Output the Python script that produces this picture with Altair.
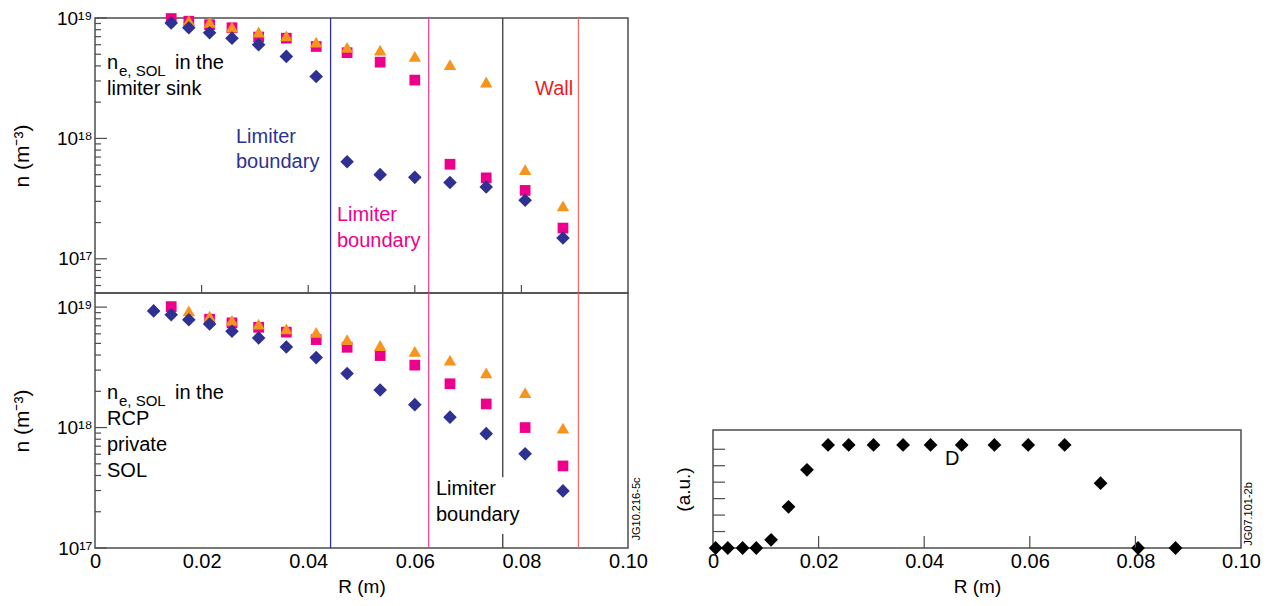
import altair as alt
import pandas as pd

# ---------------- data ----------------
# radial positions (m) of the probe samples
R_MAIN = [0.0143, 0.0176, 0.0215, 0.0257, 0.0307, 0.0359, 0.0415,
          0.0473, 0.0535, 0.0600, 0.0666, 0.0734, 0.0807, 0.0878]

# upper panel: n_e,SOL in the limiter sink (m^-3)
TOP_DIAMOND_R = R_MAIN
TOP_DIAMOND = [9.1e18, 8.3e18, 7.55e18, 6.8e18, 6.0e18, 4.8e18, 3.27e18,
               6.4e17, 5.0e17, 4.75e17, 4.3e17, 3.95e17, 3.06e17, 1.49e17]
TOP_SQUARE_R = R_MAIN
TOP_SQUARE = [9.9e18, 9.4e18, 8.8e18, 8.3e18, 6.95e18, 6.8e18, 5.8e18,
              5.15e18, 4.3e18, 3.05e18, 6.1e17, 4.7e17, 3.7e17, 1.8e17]
TOP_TRIANGLE_R = R_MAIN[1:]
TOP_TRIANGLE = [9.5e18, 9.2e18, 8.4e18, 7.65e18, 7.1e18, 6.3e18, 5.7e18,
                5.4e18, 4.8e18, 4.1e18, 2.94e18, 5.5e17, 2.75e17]

# lower panel: n_e,SOL in the RCP private SOL (m^-3)
BOT_DIAMOND_R = [0.0110] + R_MAIN
BOT_DIAMOND = [9.3e18, 8.65e18, 7.86e18, 7.24e18, 6.3e18, 5.55e18, 4.67e18,
               3.81e18, 2.81e18, 2.05e18, 1.55e18, 1.22e18, 8.9e17, 6.05e17, 2.98e17]
BOT_SQUARE_R = [0.0143, 0.0215, 0.0257, 0.0307, 0.0359, 0.0415, 0.0473,
                0.0535, 0.0600, 0.0666, 0.0734, 0.0807, 0.0878]
BOT_SQUARE = [1.01e19, 7.94e18, 7.4e18, 6.8e18, 6.2e18, 5.37e18, 4.64e18,
              3.96e18, 3.3e18, 2.31e18, 1.57e18, 1.0e18, 4.8e17]
BOT_TRIANGLE_R = R_MAIN[1:]
BOT_TRIANGLE = [9.3e18, 8.4e18, 7.76e18, 7.24e18, 6.6e18, 6.17e18, 5.37e18,
                4.8e18, 4.3e18, 3.63e18, 2.85e18, 1.95e18, 9.9e17]

# boundaries (m)
R_LIMITER_BLUE = 0.0442
R_LIMITER_PINK = 0.0626
R_LIMITER_BLACK = 0.0765
R_WALL = 0.0907

# right panel: D-alpha profile (a.u.)
D_R = [0.0005, 0.0028, 0.0056, 0.0082, 0.0110, 0.0143, 0.0178, 0.0218, 0.0257,
       0.0304, 0.0360, 0.0412, 0.0471, 0.0533, 0.0597, 0.0666, 0.0734, 0.0805, 0.0876]
D_VAL = [0, 0, 0, 0, 0.5, 2.5, 4.75, 6.26, 6.26, 6.26, 6.26, 6.26, 6.26, 6.26,
         6.26, 6.26, 3.94, 0, 0]

# axis ticks
X_TICKS = [0, 0.02, 0.04, 0.06, 0.08, 0.10]
X_INNER_TICKS = [0.02, 0.04, 0.06, 0.08]
Y_MAJOR = [1e17, 1e18, 1e19]
Y_MINOR_TOP = [m * 10 ** e for e in (16, 17, 18) for m in range(2, 10) if m * 10 ** e > 5.2e16]
Y_MINOR_BOT = [m * 10 ** e for e in (17, 18) for m in range(2, 10)]
D_TICKS = [1, 2, 3, 4, 5, 6]

# ---------------- style ----------------
FONT = "Liberation Sans"
NAVY = "#2E3192"
MAGENTA = "#EC008C"
ORANGE = "#F7941D"
FRAME = "#4D4D4D"

W_L, H_TOP, H_BOT = 533, 275, 255
W_R, H_R = 528, 118

xs = alt.Scale(domain=[0, 0.10], nice=False, zero=False)
ys_top = alt.Scale(type="log", domain=[5.2e16, 1e19], nice=False)
ys_bot = alt.Scale(type="log", domain=[1e17, 1.31e19], nice=False)
ys_d = alt.Scale(domain=[0, 7.17], nice=False, zero=True)

R_LABELS = "datum.value == 0 ? '0' : format(datum.value, '.2f')"
Y_LABELS = ("datum.value > 5e18 ? '10\u00b9\u2079' : "
            "(datum.value > 5e17 ? '10\u00b9\u2078' : '10\u00b9\u2077')")

y_axis_n = alt.Axis(values=Y_MAJOR, labelExpr=Y_LABELS, title="n (m\u207b\u00b3)",
                    ticks=False, tickSize=0, domain=False, grid=False,
                    labelFontSize=19, labelPadding=3, titleFontSize=21, titlePadding=24)
x_axis_r = alt.Axis(values=X_TICKS, labelExpr=R_LABELS, title="R (m)",
                    ticks=False, tickSize=0, domain=False, grid=False,
                    labelFontSize=20, labelPadding=3, titleFontSize=19, titlePadding=6,
                    labelFlush=False)
y_axis_d = alt.Axis(labels=False, ticks=False, tickSize=0, domain=False, grid=False,
                    title="(a.u.)", titleFontSize=19, titlePadding=20)


class Panel:
    """Shared scales and axes for every layer of one panel."""

    def __init__(self, xsc, ysc, xax, yax):
        self.xsc, self.ysc, self.xax, self.yax = xsc, ysc, xax, yax

    def X(self, field):
        return alt.X(field, type="quantitative", scale=self.xsc, axis=self.xax)

    def Y(self, field):
        return alt.Y(field, type="quantitative", scale=self.ysc, axis=self.yax)

    def series(self, R, n, shape, color, size):
        df = pd.DataFrame({"R": R, "n": n})
        return alt.Chart(df).mark_point(shape=shape, filled=True, color=color, size=size,
                                        opacity=1, strokeWidth=0, clip=False).encode(
            x=self.X("R"), y=self.Y("n"))

    def vline(self, r, color, y1=None, y2=None):
        if y1 is None:
            df = pd.DataFrame({"R": [r]})
            return alt.Chart(df).mark_rule(color=color, strokeWidth=1.3).encode(x=self.X("R"))
        df = pd.DataFrame({"R": [r], "a": [y1], "b": [y2]})
        return alt.Chart(df).mark_rule(color=color, strokeWidth=1.3).encode(
            x=self.X("R"), y=self.Y("a"), y2="b:Q")

    def y_ticks(self, values, length):
        df = pd.DataFrame({"v": values})
        return alt.Chart(df).mark_rule(color=FRAME, strokeWidth=1.2).encode(
            y=self.Y("v"), x=alt.value(0), x2=alt.value(length))

    def x_ticks(self, values, length, height):
        df = pd.DataFrame({"v": values})
        return alt.Chart(df).mark_rule(color=FRAME, strokeWidth=1.2).encode(
            x=self.X("v"), y=alt.value(height), y2=alt.value(height - length))


def label(text, x, y, size=20, color="black", angle=0, align="left", baseline="alphabetic"):
    df = pd.DataFrame({"t": [text]})
    return alt.Chart(df).mark_text(font=FONT, fontSize=size, color=color, angle=angle,
                                   align=align, baseline=baseline).encode(
        x=alt.value(x), y=alt.value(y), text="t:N")


# ---------------- upper panel ----------------
p = Panel(xs, ys_top, None, y_axis_n)
top = alt.layer(
    p.series(TOP_SQUARE_R, TOP_SQUARE, "square", MAGENTA, 115),
    p.series(TOP_TRIANGLE_R, TOP_TRIANGLE, "triangle-up", ORANGE, 155),
    p.series(TOP_DIAMOND_R, TOP_DIAMOND, "diamond", NAVY, 185),
    p.vline(R_LIMITER_BLUE, NAVY),
    p.vline(R_LIMITER_PINK, "#F0479A"),
    p.vline(R_LIMITER_BLACK, "#3A3A3A"),
    p.vline(R_WALL, "#F26A6A"),
    p.y_ticks(Y_MAJOR, 12),
    p.y_ticks(Y_MINOR_TOP, 6),
    p.x_ticks(X_INNER_TICKS, 8, H_TOP),
    label("n", 12, 51),
    label("e, SOL", 24, 58, size=15),
    label("in the", 80, 51),
    label("limiter sink", 12, 77),
    label("Limiter", 141, 125, color=NAVY),
    label("boundary", 141, 150, color=NAVY),
    label("Limiter", 242, 203, color=MAGENTA),
    label("boundary", 242, 229, color=MAGENTA),
    label("Wall", 440, 77, color="#ED1C24"),
).properties(width=W_L, height=H_TOP)

# ---------------- lower panel ----------------
q = Panel(xs, ys_bot, x_axis_r, y_axis_n)
bot = alt.layer(
    q.series(BOT_SQUARE_R, BOT_SQUARE, "square", MAGENTA, 115),
    q.series(BOT_TRIANGLE_R, BOT_TRIANGLE, "triangle-up", ORANGE, 155),
    q.series(BOT_DIAMOND_R, BOT_DIAMOND, "diamond", NAVY, 185),
    q.vline(R_LIMITER_BLUE, NAVY),
    q.vline(R_LIMITER_PINK, "#F0479A"),
    q.vline(R_LIMITER_BLACK, "#3A3A3A", 3.87e17, 1.31e19),
    q.vline(R_LIMITER_BLACK, "#3A3A3A", 1e17, 1.31e17),
    q.vline(R_WALL, "#F26A6A"),
    q.y_ticks(Y_MAJOR, 12),
    q.y_ticks(Y_MINOR_BOT, 6),
    label("n", 12, 106),
    label("e, SOL", 24, 113, size=15),
    label("in the", 80, 106),
    label("RCP", 12, 132),
    label("private", 12, 158),
    label("SOL", 12, 184),
    label("Limiter", 341, 202),
    label("boundary", 341, 228),
    label("JG10.216-5c", 542, 216, size=11, angle=270, align="center", baseline="middle"),
).properties(width=W_L, height=H_BOT)

left = alt.vconcat(top, bot, spacing=0, bounds="flush")

# ---------------- right panel ----------------
spacer = alt.Chart(pd.DataFrame({"v": [0]})).mark_point(opacity=0).encode(
    x=alt.X("v:Q", axis=None), y=alt.Y("v:Q", axis=None)
).properties(width=W_R, height=412, view=alt.ViewBackground(stroke="transparent"))

d = Panel(xs, ys_d, x_axis_r, y_axis_d)
dalpha = alt.layer(
    d.series(D_R, D_VAL, "diamond", "black", 190),
    d.y_ticks(D_TICKS, 12),
    d.x_ticks(X_INNER_TICKS, 12, H_R),
    label("D", 232, 35),
    label("JG07.101-2b", 536, 84, size=11, angle=270, align="center", baseline="middle"),
).properties(width=W_R, height=H_R)

right = alt.vconcat(spacer, dalpha, spacing=0, bounds="flush")

chart = alt.hconcat(left, right, spacing=24).properties(
    padding={"left": 10, "top": 8, "right": 5, "bottom": 5},
    background="white",
).configure_view(
    stroke=FRAME, strokeWidth=1.5
).configure_axis(
    labelFont=FONT, titleFont=FONT, labelColor="black", titleColor="black",
    titleFontWeight="normal",
)

chart.save("out.html", embed_options={"renderer": "svg", "actions": False})
